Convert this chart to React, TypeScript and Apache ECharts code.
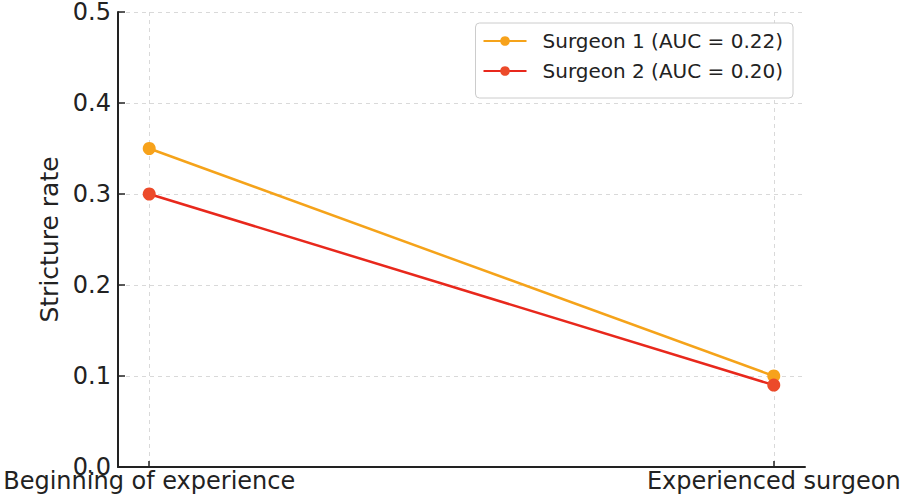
import React, { useEffect, useRef } from "react";
import * as echarts from "echarts";

const categories = ["Beginning of experience", "Experienced surgeon"];
const surgeon1 = [0.35, 0.1];
const surgeon2 = [0.3, 0.09];
const seriesNames = ["Surgeon 1 (AUC = 0.22)", "Surgeon 2 (AUC = 0.20)"];
const yTicks = [0, 0.1, 0.2, 0.3, 0.4, 0.5];

const FONT = "DejaVu Sans";

export default function App() {
  const ref = useRef<HTMLDivElement>(null);
  useEffect(() => {
    if (!ref.current) return;
    const chart = echarts.init(ref.current, null, { renderer: "svg" });
    const catIdx = categories.map((_, i) => i);
    const toData = (vals: number[]) => vals.map((v, i) => [catIdx[i], v]);
    chart.setOption({
      animation: false,
      backgroundColor: "#ffffff",
      grid: { left: 118, right: 100, top: 12, bottom: 34, containLabel: false },
      legend: {
        right: 112,
        top: 23,
        orient: "vertical",
        itemWidth: 43,
        itemHeight: 12,
        itemGap: 10,
        padding: [8, 10, 17, 7],
        borderColor: "#cccccc",
        borderWidth: 1,
        borderRadius: 4,
        backgroundColor: "#ffffff",
        textStyle: { fontFamily: FONT, fontSize: 20, color: "#222222", padding: [0, 0, 0, 11] },
        data: seriesNames,
      },
      xAxis: {
        type: "value",
        min: -0.05,
        max: 1.05,
        axisLine: { show: true, onZero: false, lineStyle: { color: "#222222", width: 2 } },
        axisTick: { show: true, inside: true, customValues: catIdx, length: 6, lineStyle: { color: "#222222", width: 1.5 } },
        axisLabel: {
          customValues: catIdx,
          formatter: (v: number) => categories[Math.round(v)] ?? "",
          fontFamily: FONT,
          fontSize: 24,
          color: "#222222",
          margin: 2,
        },
        splitLine: { show: true, lineStyle: { color: "#d9d9d9", type: [4, 4], width: 1 } },
      },
      yAxis: {
        type: "value",
        min: yTicks[0],
        max: yTicks[yTicks.length - 1],
        interval: 0.1,
        name: "Stricture rate",
        nameLocation: "middle",
        nameGap: 49,
        nameTextStyle: { fontFamily: FONT, fontSize: 25, color: "#222222" },
        axisLine: { show: true, onZero: false, lineStyle: { color: "#222222", width: 2 } },
        axisTick: { show: true, inside: true, length: 7, lineStyle: { color: "#222222", width: 1.5 } },
        axisLabel: {
          formatter: (v: number) => v.toFixed(1),
          fontFamily: FONT,
          fontSize: 24,
          color: "#222222",
          margin: 7,
        },
        splitLine: { show: true, lineStyle: { color: "#d9d9d9", type: [4, 4], width: 1 } },
      },
      series: [
        {
          name: seriesNames[0],
          type: "line",
          data: toData(surgeon1),
          symbol: "circle",
          symbolSize: 13,
          lineStyle: { color: "#f5a31a", width: 2.5 },
          itemStyle: { color: "#f7a21b" },
          z: 3,
        },
        {
          name: seriesNames[1],
          type: "line",
          data: toData(surgeon2),
          symbol: "circle",
          symbolSize: 13,
          lineStyle: { color: "#e8281c", width: 2.5 },
          itemStyle: { color: "#ec4a2a" },
          z: 4,
        },
      ],
    });
    return () => chart.dispose();
  }, []);
  return <div ref={ref} style={{ width: 905, height: 501, position: "absolute", left: 0, top: 0 }} />;
}
